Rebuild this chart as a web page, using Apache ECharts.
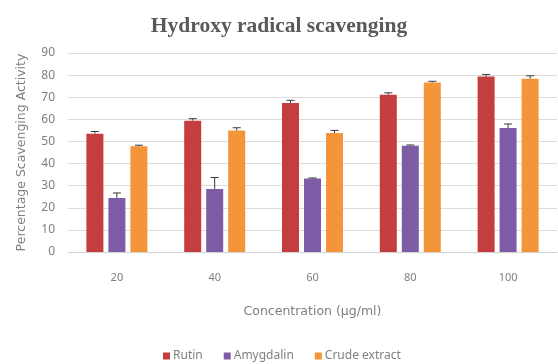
<!DOCTYPE html>
<html>
<head>
<meta charset="utf-8">
<script src="https://cdn.jsdelivr.net/npm/echarts@6/dist/echarts.min.js"></script>
<style>
  html, body { margin: 0; padding: 0; background: #fff; }
  #chart { width: 558px; height: 364px; }
</style>
</head>
<body>
<div id="chart"></div>
<script>
// Concentrations tested (µg/ml)
const concentrations = ['20', '40', '60', '80', '100'];

// Mean scavenging activity (%) for each sample
const rutin = [53.5, 59.4, 67.4, 71.1, 79.4];
const amygdalin = [24.4, 28.5, 33.2, 48.1, 56.1];
const crudeExtract = [47.8, 54.9, 53.8, 76.7, 78.4];

// Standard error (upper whisker) for each sample
const rutinErr = [1.0, 0.9, 1.2, 0.9, 0.9];
const amygdalinErr = [2.3, 5.2, 0.3, 0.3, 1.8];
const crudeErr = [0.5, 1.3, 1.2, 0.5, 1.3];

const seriesNames = ['Rutin', 'Amygdalin', 'Crude extract'];
const seriesValues = [rutin, amygdalin, crudeExtract];
const seriesErrors = [rutinErr, amygdalinErr, crudeErr];
const seriesColors = ['#C43D3F', '#7E5BA5', '#F5953A'];

const BAR_W = 17;
const BAR_GAP = 5;

const textFont = '"Noto Sans", "Open Sans", sans-serif';
const nameFont = '"DejaVu Sans", "Noto Sans", sans-serif';
const textColor = '#7f7f7f';

const chart = echarts.init(document.getElementById('chart'), null, { renderer: 'canvas' });

const barSeries = seriesNames.map((name, i) => ({
  name: name,
  type: 'bar',
  data: seriesValues[i],
  barWidth: BAR_W,
  barGap: (BAR_GAP / BAR_W * 100).toFixed(1) + '%',
  itemStyle: { color: seriesColors[i] },
  emphasis: { disabled: true },
  z: 2
}));

// Upper error whiskers drawn on top of each bar
const errorSeries = seriesNames.map((name, i) => ({
  type: 'custom',
  name: name + ' error',
  data: seriesValues[i].map((v, k) => [k, v, v + seriesErrors[i][k]]),
  encode: { x: 0, y: [1, 2] },
  z: 5,
  silent: true,
  renderItem: function (params, api) {
    const k = api.value(0);
    const lo = api.coord([k, api.value(1)]);
    const hi = api.coord([k, api.value(2)]);
    const offset = (i - 1) * (BAR_W + BAR_GAP);
    const x = lo[0] + offset;
    const cap = 4;
    const style = { stroke: '#3a3a3a', lineWidth: 1 };
    return {
      type: 'group',
      children: [
        { type: 'line', shape: { x1: x, y1: lo[1], x2: x, y2: hi[1] }, style: style },
        { type: 'line', shape: { x1: x - cap, y1: hi[1], x2: x + cap, y2: hi[1] }, style: style }
      ]
    };
  }
}));

chart.setOption({
  animation: false,
  backgroundColor: '#ffffff',
  title: {
    text: 'Hydroxy radical scavenging',
    left: 'center',
    top: 10,
    padding: [5, 10, 5, 0],
    textStyle: {
      fontFamily: '"Liberation Serif", "DejaVu Serif", serif',
      fontWeight: 'bold',
      fontSize: 21.5,
      color: '#595959'
    }
  },
  legend: {
    data: seriesNames,
    top: 345,
    left: 158,
    icon: 'rect',
    itemWidth: 7,
    itemHeight: 7,
    itemGap: 21,
    textStyle: { fontFamily: textFont, fontSize: 12, color: textColor, padding: [0, 0, 0, -2] }
  },
  grid: { left: 68, right: 1, top: 53, bottom: 112 },
  xAxis: {
    type: 'category',
    data: concentrations,
    name: 'Concentration (µg/ml)',
    nameLocation: 'middle',
    nameGap: 53,
    nameTextStyle: { fontFamily: nameFont, fontSize: 12.5, color: textColor },
    axisLine: { lineStyle: { color: '#d0d0d0' } },
    axisTick: { show: false },
    axisLabel: { fontFamily: textFont, fontSize: 11, color: textColor, margin: 20 }
  },
  yAxis: {
    type: 'value',
    min: 0,
    max: 90,
    interval: 10,
    name: 'Percentage Scavenging Activity',
    nameLocation: 'middle',
    nameGap: 40,
    nameTextStyle: { fontFamily: nameFont, fontSize: 12.5, color: textColor },
    axisLine: { show: false },
    axisTick: { show: false },
    axisLabel: { fontFamily: textFont, fontSize: 12, color: textColor, margin: 13 },
    splitLine: { lineStyle: { color: '#dcdcdc' } }
  },
  series: barSeries.concat(errorSeries)
});
</script>
</body>
</html>
